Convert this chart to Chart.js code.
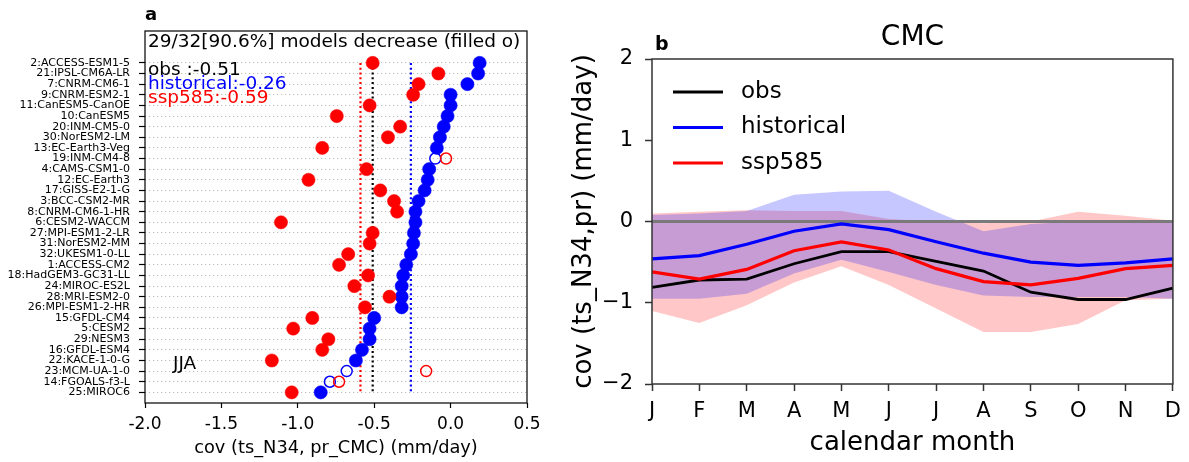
<!DOCTYPE html>
<html><head><meta charset="utf-8">
<script src="https://cdn.jsdelivr.net/npm/chart.js@4.4.0/dist/chart.umd.min.js"></script>
<style>
html,body{margin:0;padding:0;background:#fff;}
#wrap{position:relative;width:1189px;height:462px;overflow:hidden;background:#fff;}
canvas{position:absolute;top:0;}
#c1{left:0;} #c2{left:560px;}
</style></head><body>
<div id="wrap"><canvas id="c1" width="560" height="462"></canvas><canvas id="c2" width="629" height="462"></canvas></div>
<script>
// ---------- panel a data ----------
const models = ['2:ACCESS-ESM1-5','21:IPSL-CM6A-LR','7:CNRM-CM6-1','9:CNRM-ESM2-1','11:CanESM5-CanOE','10:CanESM5','20:INM-CM5-0','30:NorESM2-LM','13:EC-Earth3-Veg','19:INM-CM4-8','4:CAMS-CSM1-0','12:EC-Earth3','17:GISS-E2-1-G','3:BCC-CSM2-MR','8:CNRM-CM6-1-HR','6:CESM2-WACCM','27:MPI-ESM1-2-LR','31:NorESM2-MM','32:UKESM1-0-LL','1:ACCESS-CM2','18:HadGEM3-GC31-LL','24:MIROC-ES2L','28:MRI-ESM2-0','26:MPI-ESM1-2-HR','15:GFDL-CM4','5:CESM2','29:NESM3','16:GFDL-ESM4','22:KACE-1-0-G','23:MCM-UA-1-0','14:FGOALS-f3-L','25:MIROC6'];
const histValues = [0.19,0.18,0.11,0.0,0.0,-0.02,-0.045,-0.07,-0.09,-0.10,-0.14,-0.15,-0.17,-0.21,-0.23,-0.23,-0.24,-0.245,-0.26,-0.29,-0.31,-0.32,-0.32,-0.32,-0.50,-0.53,-0.53,-0.58,-0.62,-0.68,-0.79,-0.85];
const sspValues = [-0.51,-0.08,-0.21,-0.245,-0.53,-0.745,-0.33,-0.41,-0.84,-0.03,-0.55,-0.93,-0.46,-0.37,-0.35,-1.11,-0.51,-0.53,-0.67,-0.73,-0.54,-0.63,-0.40,-0.56,-0.905,-1.03,-0.80,-0.84,-1.17,-0.16,-0.73,-1.04];
const decreases = [1,1,1,1,1,1,1,1,1,0,1,1,1,1,1,1,1,1,1,1,1,1,1,1,1,1,1,1,1,0,0,1];
const obsMean = -0.51, histMean = -0.26, sspMean = -0.59;
const xTicksA = [-2.0,-1.5,-1.0,-0.5,0.0,0.5];
const seasonLabel = 'JJA';

// ---------- panel b data ----------
const months = ['J','F','M','A','M','J','J','A','S','O','N','D'];
const obsMonthly  = [-0.81,-0.72,-0.71,-0.52,-0.37,-0.37,-0.49,-0.61,-0.87,-0.96,-0.96,-0.82];
const histMonthly = [-0.46,-0.42,-0.28,-0.12,-0.03,-0.10,-0.25,-0.39,-0.50,-0.54,-0.51,-0.46];
const histUpper   = [0.08,0.10,0.13,0.33,0.37,0.38,0.12,-0.12,-0.03,0.0,0.02,0.02];
const histLower   = [-0.95,-0.95,-0.89,-0.64,-0.47,-0.62,-0.78,-0.91,-0.93,-0.93,-0.93,-0.95];
const sspMonthly  = [-0.62,-0.71,-0.59,-0.36,-0.25,-0.35,-0.58,-0.74,-0.78,-0.70,-0.58,-0.54];
const sspUpper    = [0.10,0.12,0.14,0.13,0.13,0.03,0.0,-0.02,0.0,0.12,0.07,0.01];
const sspLower    = [-1.10,-1.25,-1.03,-0.75,-0.55,-0.78,-1.07,-1.36,-1.36,-1.26,-0.97,-0.95];
const zeroLine    = [0,0,0,0,0,0,0,0,0,0,0,0];
const yTicksB = [-2,-1,0,1,2];

const FONT = '"DejaVu Sans", sans-serif';
Chart.defaults.font.family = FONT;
Chart.defaults.color = '#000';

const nDec = decreases.reduce((s,v)=>s+v,0);
const summary = nDec + '/' + models.length + '[' + (100*nDec/models.length).toFixed(1) + '%] models decrease (filled o)';

const leftDecor = {
  id:'leftDecor',
  afterDraw(chart){
    const {ctx, chartArea:a} = chart;
    ctx.save();
    ctx.strokeStyle = '#000'; ctx.lineWidth = 1.2;
    ctx.strokeRect(a.left, a.top, a.right-a.left, a.bottom-a.top);
    ctx.textAlign = 'left'; ctx.textBaseline = 'alphabetic';
    ctx.fillStyle = '#000';
    ctx.font = 'bold 18px ' + FONT;
    ctx.fillText('a', a.left, a.top-11);
    ctx.font = '18.5px ' + FONT;
    ctx.fillText(summary, a.left+3, a.top+15.5);
    ctx.fillStyle = '#000'; ctx.fillText('obs :' + obsMean.toFixed(2), a.left+3, a.top+44);
    ctx.fillStyle = '#0000ff'; ctx.fillText('historical:' + histMean.toFixed(2), a.left+3, a.top+58);
    ctx.fillStyle = '#ff0000'; ctx.fillText('ssp585:' + sspMean.toFixed(2), a.left+3, a.top+72);
    ctx.fillStyle = '#000'; ctx.fillText(seasonLabel, a.left+28, a.bottom-34.5);
    ctx.restore();
  }
};

function pts(vals){ return vals.map((v,i)=>({x:v, y:i})); }
function markerDs(label, vals, color){
  return {
    label, data: pts(vals), showLine:false,
    pointRadius: decreases.map(d=>d?6.6:5.5),
    pointBackgroundColor: decreases.map(d=>d?color:'rgba(0,0,0,0)'),
    pointBorderColor: color,
    pointBorderWidth: decreases.map(d=>d?0.5:1.5),
    pointHoverRadius: 6.6
  };
}
function meanDs(label, v, color){
  return {label, data:[{x:v,y:0},{x:v,y:models.length-1}], showLine:true, borderColor:color,
    borderWidth:2.2, borderDash:[2,2.8], pointRadius:0, fill:false};
}

new Chart(document.getElementById('c1'), {
  type:'scatter',
  data:{datasets:[
    markerDs('ssp585', sspValues, '#ff0000'),
    markerDs('historical', histValues, '#0000ff'),
    meanDs('obs mean', obsMean, '#000000'),
    meanDs('historical mean', histMean, '#0000ff'),
    meanDs('ssp585 mean', sspMean, '#ff0000')
  ]},
  options:{
    responsive:false, animation:false,
    layout:{padding:{left:0, top:31, right:33, bottom:0}},
    plugins:{legend:{display:false}, tooltip:{enabled:false}},
    scales:{
      x:{type:'linear', min:xTicksA[0], max:xTicksA[xTicksA.length-1],
        afterBuildTicks(s){ s.ticks = xTicksA.map(v=>({value:v})); },
        ticks:{callback:v=>Number(v).toFixed(1), font:{size:17}, color:'#000', padding:6, maxRotation:0},
        grid:{drawOnChartArea:false, drawTicks:true, tickLength:5, tickColor:'#000', tickWidth:1.2},
        border:{display:false},
        title:{display:true, text:'cov (ts_N34, pr_CMC) (mm/day)', font:{size:17.8}, color:'#000', padding:{top:0, bottom:2.5}},
        afterFit(s){ s.height = 59; }
      },
      y:{type:'linear', reverse:true, min:-3, max:models.length,
        afterBuildTicks(s){ s.ticks = models.map((_,i)=>({value:i})); },
        ticks:{autoSkip:false, callback:v=>models[v], font:{size:11, lineHeight:1}, color:'#000', padding:9},
        grid:{color:'#bdbdbd', lineWidth:1, tickColor:'#000', tickBorderDash:[], tickLength:6, tickWidth:1.2},
        border:{display:false, dash:[1.2,2.8]},
        afterFit(s){ s.width = 145; }
      }
    }
  },
  plugins:[leftDecor]
});

// ---------- panel b ----------
const legendItems = [['obs','#000000'],['historical','#0000ff'],['ssp585','#ff0000']];
const rightDecor = {
  id:'rightDecor',
  afterDraw(chart){
    const {ctx, chartArea:a} = chart;
    ctx.save();
    ctx.strokeStyle = '#333'; ctx.lineWidth = 1.5;
    ctx.strokeRect(a.left, a.top, a.right-a.left, a.bottom-a.top);
    ctx.fillStyle = '#000';
    ctx.textBaseline = 'alphabetic';
    ctx.textAlign = 'center';
    ctx.font = '28px ' + FONT;
    ctx.fillText('CMC', (a.left+a.right)/2, a.top-14);
    ctx.textAlign = 'left';
    ctx.font = 'bold 19px ' + FONT;
    ctx.fillText('b', a.left+3, a.top-9);
    ctx.font = '23px ' + FONT;
    ctx.textBaseline = 'middle';
    legendItems.forEach(([t,c],i)=>{
      const y = a.top + 33 + i*35.5;
      ctx.strokeStyle = c; ctx.lineWidth = 3.2;
      ctx.beginPath(); ctx.moveTo(a.left+21, y); ctx.lineTo(a.left+71, y); ctx.stroke();
      ctx.fillStyle = '#000'; ctx.fillText(t, a.left+89, y);
    });
    ctx.restore();
  }
};
const lineBase = {pointRadius:0, pointHoverRadius:0, tension:0, fill:false};
new Chart(document.getElementById('c2'), {
  type:'line',
  data:{labels:months, datasets:[
    {...lineBase, label:'ssp585', data:sspMonthly, borderColor:'#ff0000', borderWidth:3.2, order:0},
    {...lineBase, label:'historical', data:histMonthly, borderColor:'#0000ff', borderWidth:3.2, order:1},
    {...lineBase, label:'obs', data:obsMonthly, borderColor:'#000000', borderWidth:2.8, order:2},
    {...lineBase, label:'zero', data:zeroLine, borderColor:'#7a7a7a', borderWidth:3, order:3},
    {...lineBase, label:'ssp585 min', data:sspLower, borderColor:'rgba(0,0,0,0)', borderWidth:1, order:5},
    {...lineBase, label:'ssp585 max', data:sspUpper, borderColor:'rgba(0,0,0,0)', borderWidth:1, fill:'-1', backgroundColor:'rgba(255,0,0,0.22)', order:5},
    {...lineBase, label:'historical min', data:histLower, borderColor:'rgba(0,0,0,0)', borderWidth:1, order:4},
    {...lineBase, label:'historical max', data:histUpper, borderColor:'rgba(0,0,0,0)', borderWidth:1, fill:'-1', backgroundColor:'rgba(0,0,255,0.22)', order:4}
  ]},
  options:{
    responsive:false, animation:false,
    layout:{padding:{left:0, top:59, right:11, bottom:0}},
    plugins:{legend:{display:false}, tooltip:{enabled:false}},
    scales:{
      x:{type:'category',
        ticks:{font:{size:21}, color:'#000', padding:8, maxRotation:0, autoSkip:false},
        grid:{drawOnChartArea:false, drawTicks:true, tickLength:7, tickColor:'#333', tickWidth:1.5},
        border:{display:false},
        title:{display:true, text:'calendar month', font:{size:26}, color:'#000', padding:{top:0, bottom:3.4}},
        afterFit(s){ s.height = 78; }
      },
      y:{type:'linear', min:yTicksB[0], max:yTicksB[yTicksB.length-1],
        afterBuildTicks(s){ s.ticks = yTicksB.map(v=>({value:v})); },
        ticks:{callback:v=>(v<0?'\u2212'+Math.abs(v):String(v)), font:{size:21}, color:'#000', padding:12},
        grid:{drawOnChartArea:false, drawTicks:true, tickLength:7, tickColor:'#333', tickWidth:1.5},
        border:{display:false},
        title:{display:true, text:'cov (ts_N34,pr) (mm/day)', font:{size:26}, color:'#000', padding:{top:8.4, bottom:0}},
        afterFit(s){ s.width = 92; }
      }
    }
  },
  plugins:[rightDecor]
});
</script>
</body></html>
